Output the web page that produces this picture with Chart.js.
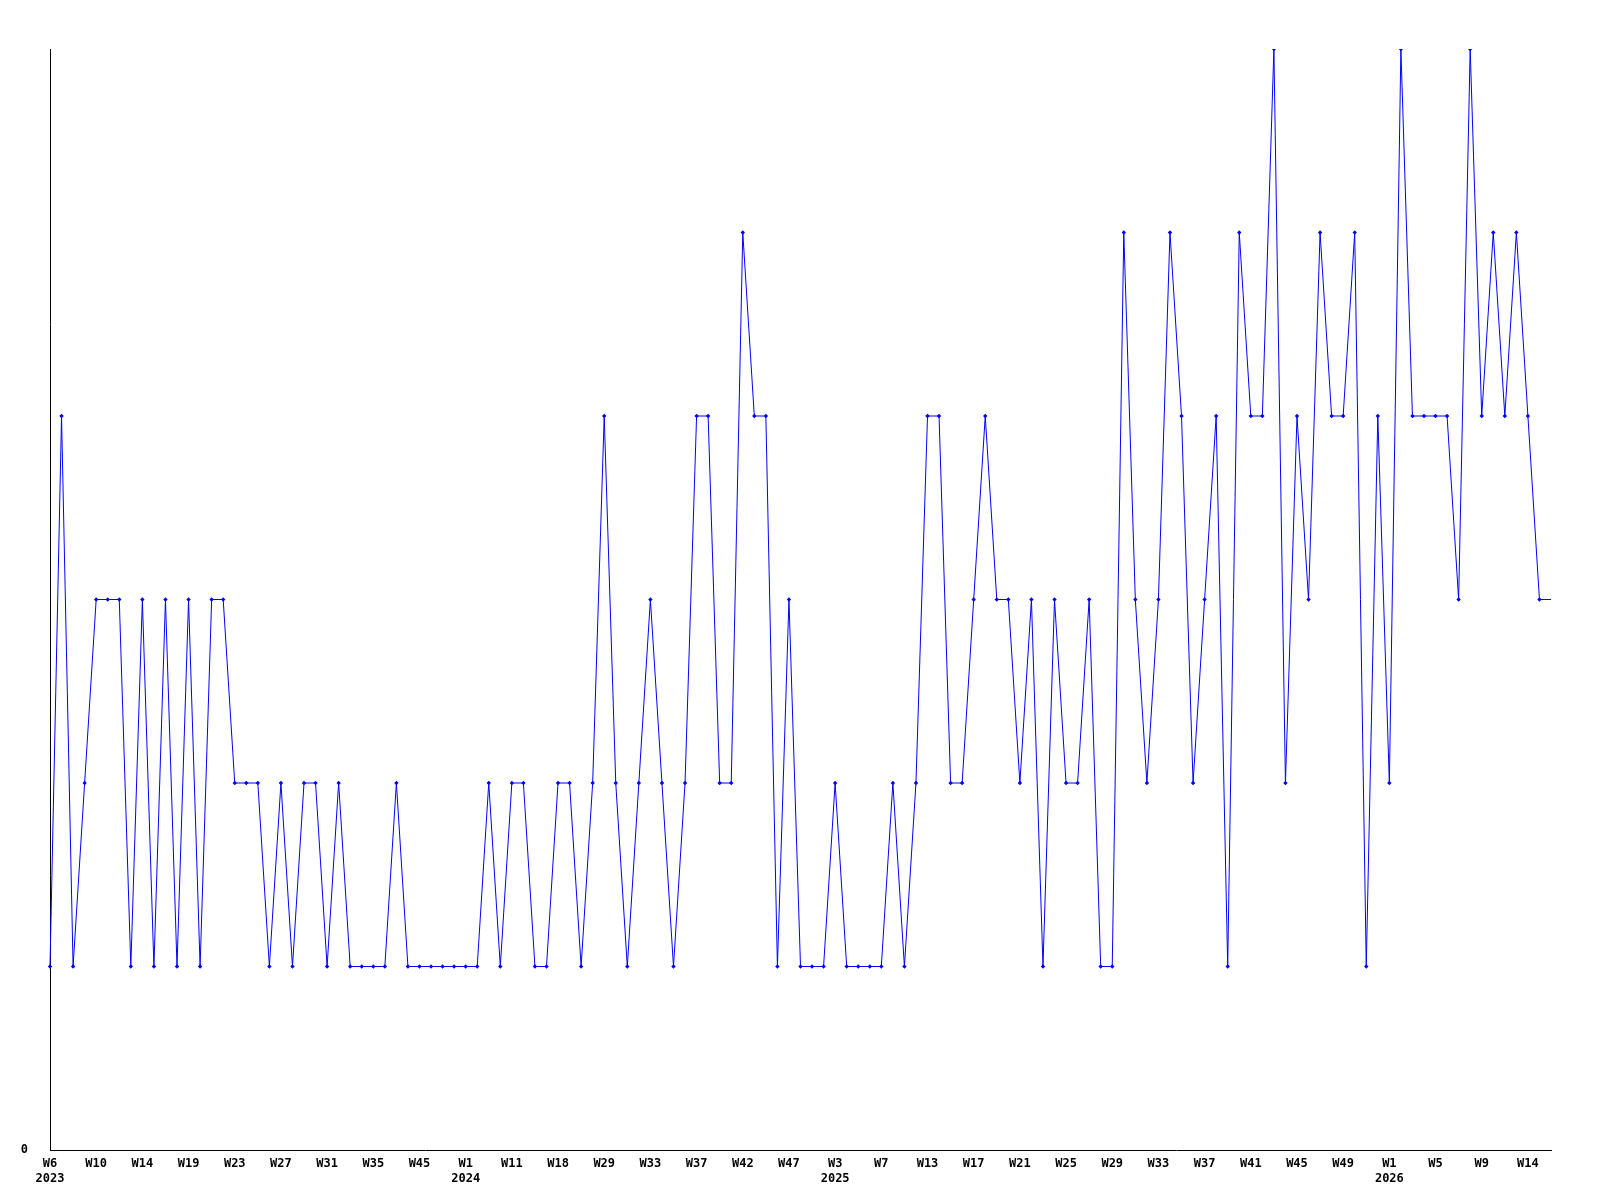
<!DOCTYPE html>
<html>
<head>
<meta charset="utf-8">
<script src="https://cdn.jsdelivr.net/npm/chart.js@4"></script>
<style>
  body { margin: 0; background: #fff; }
  #wrap { width: 1600px; height: 1200px; }
</style>
</head>
<body>
<div id="wrap"><canvas id="weekly"></canvas></div>
<script>
// weekly counts, one per point (last one is the unfinished current week, no marker)
const values = [
  1, 4, 1, 2, 3, 3, 3, 1, 3, 1, 3, 1, 3, 1, 3, 3, 2, 2, 2, 1,
  2, 1, 2, 2, 1, 2, 1, 1, 1, 1, 2, 1, 1, 1, 1, 1, 1, 1, 2, 1,
  2, 2, 1, 1, 2, 2, 1, 2, 4, 2, 1, 2, 3, 2, 1, 2, 4, 4, 2, 2,
  5, 4, 4, 1, 3, 1, 1, 1, 2, 1, 1, 1, 1, 2, 1, 2, 4, 4, 2, 2,
  3, 4, 3, 3, 2, 3, 1, 3, 2, 2, 3, 1, 1, 5, 3, 2, 3, 5, 4, 2,
  3, 4, 1, 5, 4, 4, 6, 2, 4, 3, 5, 4, 4, 5, 1, 4, 2, 6, 4, 4,
  4, 4, 3, 6, 4, 5, 4, 5, 4, 3, 3
];

// a label on every 4th point
const weekTicks = [
  "W6", "W10", "W14", "W19", "W23", "W27", "W31", "W35", "W45",
  "W1", "W11", "W18", "W29", "W33", "W37", "W42", "W47",
  "W3", "W7", "W13", "W17", "W21", "W25", "W29", "W33", "W37", "W41", "W45", "W49",
  "W1", "W5", "W9", "W14"
];
const yearTicks = {0: "2023", 9: "2024", 17: "2025", 29: "2026"};
const tickEvery = 4;

const labels = values.map((v, i) => {
  if (i % tickEvery !== 0) return "";
  const k = i / tickEvery;
  if (k >= weekTicks.length) return "";
  return yearTicks[k] ? [weekTicks[k], yearTicks[k]] : weekTicks[k];
});

const tickFont = { family: "'DejaVu Sans Mono', monospace", size: 12, weight: "bold", lineHeight: 1.25 };
const last = values.length - 1;

const config = {
  type: "line",
  data: {
    labels: labels,
    datasets: [{
      data: values,
      borderColor: "#0000ff",
      backgroundColor: "#0000ff",
      borderWidth: 1,
      tension: 0,
      pointStyle: "rectRot",
      pointRadius: ctx => ctx.dataIndex === last ? 0 : 2.2,
      pointBorderWidth: 0,
      pointBackgroundColor: "#0000ff"
    }]
  },
  options: {
    responsive: true,
    maintainAspectRatio: false,
    animation: false,
    layout: { padding: { top: 49, right: 49, left: 0, bottom: 0 } },
    plugins: { legend: { display: false }, tooltip: { enabled: false } },
    scales: {
      x: {
        type: "category",
        offset: false,
        grid: { display: false, drawTicks: false },
        border: { display: true, color: "#000", width: 1, z: -1 },
        ticks: {
          autoSkip: false,
          maxRotation: 0,
          minRotation: 0,
          padding: 6,
          color: "#000",
          font: tickFont
        },
        afterFit: s => { s.height = 50; }
      },
      y: {
        min: 0,
        max: 6,
        grid: { display: false, drawTicks: false },
        border: { display: true, color: "#000", width: 1 },
        ticks: {
          stepSize: 1,
          padding: 22,
          color: "#000",
          font: tickFont,
          callback: v => v === 0 ? "0" : ""
        },
        afterFit: s => { s.width = 50; }
      }
    }
  }
};

new Chart(document.getElementById("weekly"), config);
</script>
</body>
</html>
